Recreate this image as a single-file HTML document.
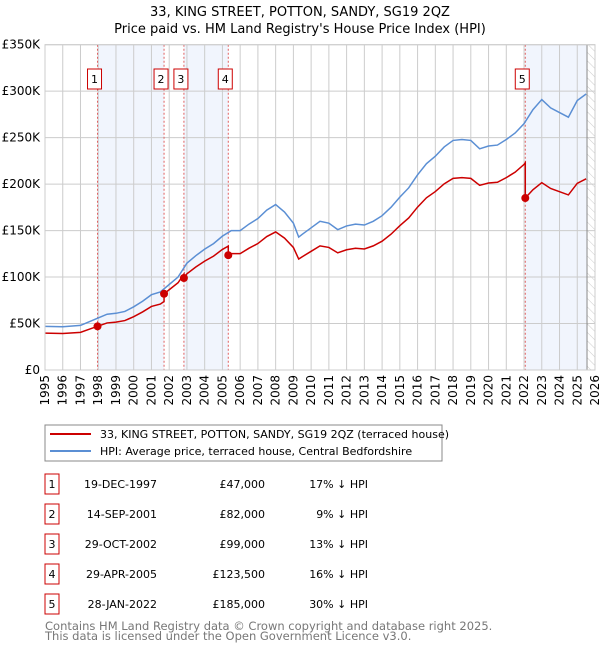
<!DOCTYPE html>
<html><head><meta charset="utf-8"><style>
body{margin:0;background:#fff;font-family:"DejaVu Sans","Liberation Sans",sans-serif;}
svg text{font-family:"DejaVu Sans","Liberation Sans",sans-serif;}
</style></head><body>
<svg id="c" width="600" height="650" xmlns="http://www.w3.org/2000/svg">
<defs><pattern id="hatch" width="6" height="6" patternUnits="userSpaceOnUse" patternTransform="rotate(-45)"><line x1="0" y1="0" x2="0" y2="6" stroke="#ccc" stroke-width="1"/></pattern></defs>
<text x="300" y="16" text-anchor="middle" font-size="13">33, KING STREET, POTTON, SANDY, SG19 2QZ</text>
<text x="300" y="33" text-anchor="middle" font-size="13">Price paid vs. HM Land Registry's House Price Index (HPI)</text>
<g id="plot"></g>
<rect x="45" y="425" width="397" height="36" fill="#fff" stroke="#888"/>
<line x1="50" y1="434" x2="91" y2="434" stroke="#cc0000" stroke-width="2"/>
<text x="100" y="438" font-size="11">33, KING STREET, POTTON, SANDY, SG19 2QZ (terraced house)</text>
<line x1="50" y1="451" x2="91" y2="451" stroke="#5b8fd4" stroke-width="2"/>
<text x="100" y="455" font-size="11">HPI: Average price, terraced house, Central Bedfordshire</text>
<g id="table"></g>
<text x="45" y="630" font-size="11.5" fill="#777">Contains HM Land Registry data © Crown copyright and database right 2025.</text>
<text x="45" y="640" font-size="11.5" fill="#777">This data is licensed under the Open Government Licence v3.0.</text>
</svg>
<script>
const hpiYears=[1995,1996,1997,1997.5,1998,1998.5,1999,1999.5,2000,2000.5,2001,2001.5,2002,2002.5,2003,2003.5,2004,2004.5,2005,2005.5,2006,2006.5,2007,2007.5,2008,2008.5,2009,2009.3,2009.5,2010,2010.5,2011,2011.5,2012,2012.5,2013,2013.5,2014,2014.5,2015,2015.5,2016,2016.5,2017,2017.5,2018,2018.5,2019,2019.5,2020,2020.5,2021,2021.5,2022,2022.5,2023,2023.5,2024,2024.5,2025,2025.5];
const hpiValues=[47,46.5,48,52,56,60,61,63,68,74,81,84,92,100,115,123,130,136,144,150,150,157,163,172,178,170,158,143,146,153,160,158,151,155,157,156,160,166,175,186,196,210,222,230,240,247,248,247,238,241,242,248,255,265,280,291,282,277,272,290,297];
const saleLabels=["1","2","3","4","5"];
const saleDates=[1997.96,2001.71,2002.83,2005.33,2022.07];
const salePrices=[47,82,99,123.5,185];
const saleDateText=["19-DEC-1997","14-SEP-2001","29-OCT-2002","29-APR-2005","28-JAN-2022"];
const salePriceText=["£47,000","£82,000","£99,000","£123,500","£185,000"];
const salePctText=["17% ↓ HPI","9% ↓ HPI","13% ↓ HPI","16% ↓ HPI","30% ↓ HPI"];
const yTicks=[0,50,100,150,200,250,300,350];
const yTickLabels=["£0","£50K","£100K","£150K","£200K","£250K","£300K","£350K"];
const xTicks=[1995,1996,1997,1998,1999,2000,2001,2002,2003,2004,2005,2006,2007,2008,2009,2010,2011,2012,2013,2014,2015,2016,2017,2018,2019,2020,2021,2022,2023,2024,2025,2026];
const dataEnd=2025.55;

const X0=45,X1=595,Y0=370,Y1=44.7;
const xs=t=>X0+(t-1995)/(2026-1995)*(X1-X0);
const ys=v=>Y0-v/350*(Y0-Y1);
const NS="http://www.w3.org/2000/svg";
const g=document.getElementById('plot');
function mk(tag,attrs,parent){const e=document.createElementNS(NS,tag);for(const k in attrs)e.setAttribute(k,attrs[k]);(parent||g).appendChild(e);return e;}
function hpiAt(t){for(let i=0;i<hpiYears.length-1;i++){if(t<=hpiYears[i+1]){const f=(t-hpiYears[i])/(hpiYears[i+1]-hpiYears[i]);return hpiValues[i]+f*(hpiValues[i+1]-hpiValues[i]);}}return hpiValues[hpiValues.length-1];}

const shadeRanges=[[saleDates[0],saleDates[1]],[saleDates[2],saleDates[3]],[saleDates[4],dataEnd]];
shadeRanges.forEach((r,i)=>{const e=mk('rect',{x:xs(r[0]),y:Y1,width:xs(r[1])-xs(r[0]),height:Y0-Y1,fill:'#eef3fc',opacity:0.8});

});
const hz=mk('rect',{x:xs(dataEnd),y:Y1,width:X1-xs(dataEnd),height:Y0-Y1,fill:'url(#hatch)'});


yTicks.forEach((v,i)=>{const l=mk('line',{x1:X0,x2:X1,y1:ys(v),y2:ys(v),stroke:'#ccc'});


const t=mk('text',{x:X0-5,y:ys(v)+4,'text-anchor':'end','font-size':12});t.textContent=yTickLabels[i];

});
xTicks.forEach(yr=>{const l=mk('line',{x1:xs(yr),x2:xs(yr),y1:Y1,y2:Y0,stroke:'#ccc'});


const t=mk('text',{x:0,y:0,'font-size':12,'text-anchor':'end',transform:`translate(${xs(yr)+4},${Y0+5}) rotate(-90)`});t.textContent=yr;

});
const vl=mk('line',{x1:xs(dataEnd),x2:xs(dataEnd),y1:Y1,y2:Y0,stroke:'#888'});


saleDates.forEach((d,i)=>{const l=mk('line',{x1:xs(d),x2:xs(d),y1:Y1,y2:Y0,stroke:'#e06060','stroke-dasharray':'2,2'});

});
const pts=[];for(let i=0;i<hpiYears.length;i++)pts.push(xs(hpiYears[i])+','+ys(hpiValues[i]));
const hl=mk('polyline',{points:pts.join(' '),fill:'none',stroke:'#5b8fd4','stroke-width':1.5});


const ratios=saleDates.map((d,i)=>salePrices[i]/hpiAt(d));
const times=[...hpiYears,...saleDates].sort((a,b)=>a-b);
const rp=[];
times.forEach(t=>{let k=0;for(let i=0;i<saleDates.length;i++)if(t>=saleDates[i])k=i;
if(saleDates.includes(t)&&saleDates.indexOf(t)>0){const pk=saleDates.indexOf(t)-1;rp.push(xs(t)+','+ys(hpiAt(t)*ratios[pk]));}
rp.push(xs(t)+','+ys(hpiAt(t)*ratios[k]));});
const pl=mk('polyline',{points:rp.join(' '),fill:'none',stroke:'#cc0000','stroke-width':1.5});


saleDates.forEach((d,i)=>{const c=mk('circle',{cx:xs(d),cy:ys(salePrices[i]),r:4,fill:'#cc0000'});


const b=mk('rect',{x:xs(d)-10,y:69,width:14,height:20,fill:'#fff',stroke:'#cc0000'});


const t=mk('text',{x:xs(d)-3,y:83,'text-anchor':'middle','font-size':11});t.textContent=saleLabels[i];

});
mk('rect',{x:X0,y:Y1,width:X1-X0,height:Y0-Y1,fill:'none',stroke:'#ccc'});
const tg=document.getElementById('table');
saleLabels.forEach((s,i)=>{const cy=484+i*30;
const b=mk('rect',{x:45,y:cy-10,width:14,height:20,fill:'#fff',stroke:'#cc0000'},tg);


const cells=[[52,'middle',s],[157,'end',saleDateText[i]],[265,'end',salePriceText[i]],[368,'end',salePctText[i]]];
cells.forEach((c,j)=>{const t=mk('text',{x:c[0],y:cy+4,'text-anchor':c[1],'font-size':11},tg);t.textContent=c[2];

});});
</script>
</body></html>
